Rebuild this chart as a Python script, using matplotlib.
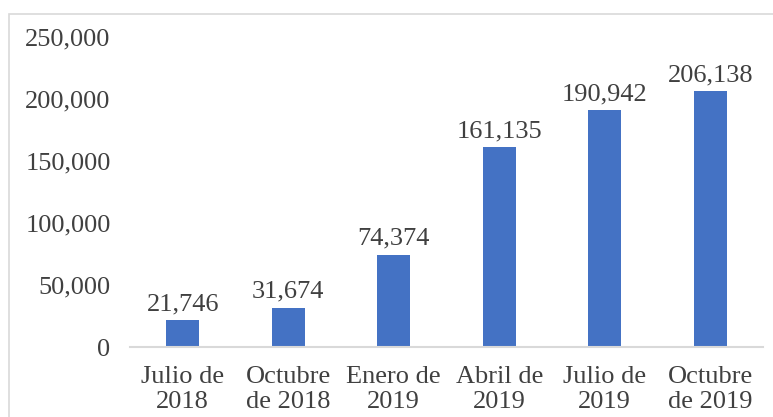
import matplotlib
matplotlib.use("Agg")
import matplotlib.pyplot as plt
from matplotlib.patches import Rectangle

# datos
categorias = ["Julio de\n2018", "Octubre\nde 2018", "Enero de\n2019",
              "Abril de\n2019", "Julio de\n2019", "Octubre\nde 2019"]
valores = [21746, 31674, 74374, 161135, 190942, 206138]
y_ticks = [0, 50000, 100000, 150000, 200000, 250000]

plt.rcParams['font.family'] = ['Liberation Serif', 'DejaVu Serif']
gris = '#404040'

fig = plt.figure(figsize=(7.73, 4.17), dpi=100)
ax = fig.add_axes([130 / 773, 70 / 417, 633 / 773, 310 / 417])

x = range(len(categorias))
bars = ax.bar(x, valores, width=0.31, color='#4472c4')

for xi, v in zip(x, valores):
    ax.text(xi, v + 4000, f"{v:,}", ha='center', va='bottom', fontsize=19, color=gris)

ax.set_ylim(0, 250000)
ax.set_xlim(-0.5, len(categorias) - 0.5)
ax.set_yticks(y_ticks)
ax.set_yticklabels([f"{t:,}" for t in y_ticks])
ax.set_xticks(list(x))
ax.set_xticklabels(categorias, linespacing=1.15)
ax.tick_params(axis='y', length=0, pad=14, labelsize=19, labelcolor=gris)
ax.tick_params(axis='x', length=0, pad=14, labelsize=19, labelcolor=gris)

for s in ['top', 'right', 'left']:
    ax.spines[s].set_visible(False)
ax.spines['bottom'].set_color('#d9d9d9')
ax.spines['bottom'].set_linewidth(1.5)

# marco exterior
fig.patches.append(Rectangle((9 / 773, -0.01), 1.0, (417 - 14) / 417 + 0.01,
                             transform=fig.transFigure, fill=False,
                             edgecolor='#d9d9d9', linewidth=1.2))

fig.savefig("out.png", dpi=100)
plt.close()
